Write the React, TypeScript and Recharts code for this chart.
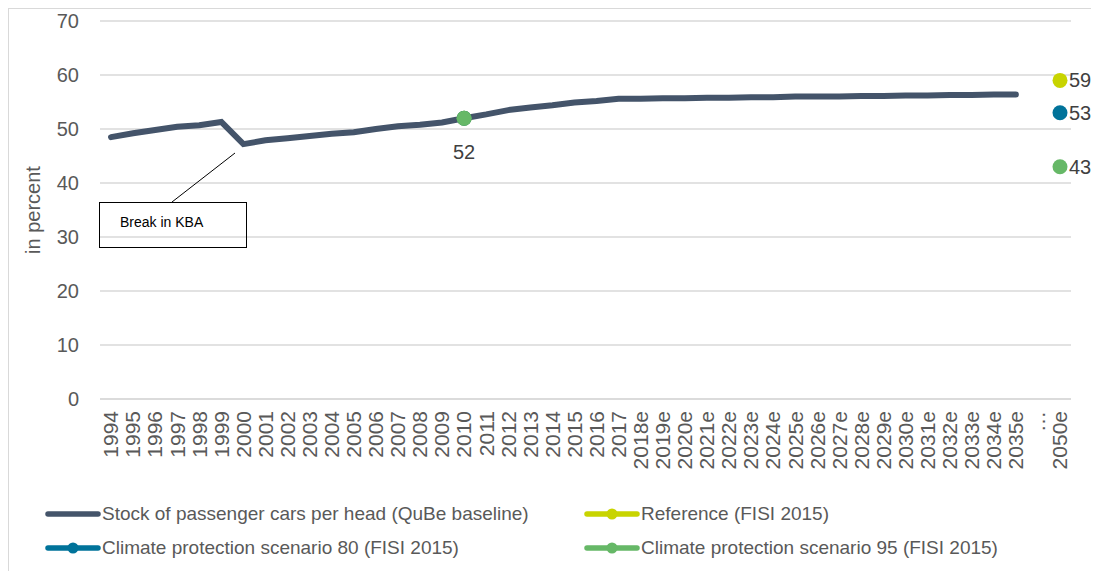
import React from 'react';
import { LineChart, Line, XAxis, YAxis, CartesianGrid, Legend, LabelList } from 'recharts';

const years = [
  '1994', '1995', '1996', '1997', '1998', '1999', '2000', '2001', '2002', '2003', '2004',
  '2005', '2006', '2007', '2008', '2009', '2010', '2011', '2012', '2013', '2014', '2015',
  '2016', '2017', '2018e', '2019e', '2020e', '2021e', '2022e', '2023e', '2024e', '2025e',
  '2026e', '2027e', '2028e', '2029e', '2030e', '2031e', '2032e', '2033e', '2034e', '2035e',
  '…', '2050e',
];

// QuBe baseline, 1994 .. 2035e
const stockValues = [
  48.5, 49.2, 49.8, 50.4, 50.7, 51.3, 47.2, 47.9, 48.3, 48.7, 49.1,
  49.4, 50.0, 50.5, 50.8, 51.2, 52.0, 52.7, 53.5, 54.0, 54.4, 54.9,
  55.2, 55.6, 55.6, 55.7, 55.7, 55.8, 55.8, 55.9, 55.9, 56.0,
  56.0, 56.0, 56.1, 56.1, 56.2, 56.2, 56.3, 56.3, 56.4, 56.4,
];

const scenarioYears = ['2010', '2050e'];
const referenceValues = [52, 59];
const cp80Values = [52, 53];
const cp95Values = [52, 43];

const SERIES = [
  { key: 'stock', name: 'Stock of passenger cars per head (QuBe baseline)', color: '#44546a' },
  { key: 'reference', name: 'Reference (FISI 2015)', color: '#c8d400' },
  { key: 'cp80', name: 'Climate protection scenario 80 (FISI 2015)', color: '#00739a' },
  { key: 'cp95', name: 'Climate protection scenario 95 (FISI 2015)', color: '#66b867' },
];

const FONT = 'Arial, "Liberation Sans", sans-serif';

const scenarioAt = (values: number[], year: string) => {
  const i = scenarioYears.indexOf(year);
  return i >= 0 ? values[i] : null;
};

const data = years.map((year, i) => ({
  year,
  stock: i < stockValues.length ? stockValues[i] : null,
  reference: scenarioAt(referenceValues, year),
  cp80: scenarioAt(cp80Values, year),
  cp95: scenarioAt(cp95Values, year),
}));

const YearTick = (props: any) => {
  const { x, y, payload } = props;
  return (
    <text
      x={x}
      y={y}
      dy="0.35em"
      transform={`rotate(-90, ${x}, ${y})`}
      textAnchor="end"
      fontSize={21}
      fontFamily={FONT}
      fill="#595959"
    >
      {payload.value}
    </text>
  );
};

// labels: value right of the 2050e dot, optionally under the 2010 dot
const makeLabel = (showStart: boolean) => (props: any) => {
  const { x, y, value, index } = props;
  if (value == null) return null;
  const isEnd = data[index]?.year === '2050e';
  if (!isEnd && !showStart) return null;
  return (
    <text
      x={isEnd ? x + 9 : x}
      y={isEnd ? y : y + 34}
      textAnchor={isEnd ? 'start' : 'middle'}
      dominantBaseline="central"
      fontSize={20}
      fontFamily={FONT}
      fill="#404040"
    >
      {value}
    </text>
  );
};

const renderLegend = () => (
  <div
    style={{
      height: 80,
      boxSizing: 'border-box',
      paddingTop: 12,
      paddingLeft: 36,
      display: 'grid',
      gridTemplateColumns: '539px auto',
      gridAutoRows: 34,
      fontFamily: FONT,
      fontSize: 19,
      color: '#595959',
    }}
  >
    {SERIES.map((s) => (
      <div key={s.key} style={{ display: 'flex', alignItems: 'center', height: 22 }}>
        <svg width={57} height={14} style={{ flex: 'none' }}>
          <line x1={3} y1={7} x2={53} y2={7} stroke={s.color} strokeWidth={5.5} strokeLinecap="round" />
          {s.key !== 'stock' && <circle cx={28} cy={7} r={5.5} fill={s.color} />}
        </svg>
        <span style={{ whiteSpace: 'nowrap' }}>{s.name}</span>
      </div>
    ))}
  </div>
);

const BreakNote = () => (
  <>
    <svg width={300} height={260} style={{ position: 'absolute', left: 0, top: 0, pointerEvents: 'none' }}>
      <line x1={163} y1={193} x2={226} y2={144} stroke="#000" strokeWidth={1} />
    </svg>
    <div
      style={{
        position: 'absolute',
        left: 90,
        top: 193,
        width: 148,
        height: 46,
        boxSizing: 'border-box',
        border: '1px solid #000',
        paddingLeft: 20,
        paddingTop: 10,
        fontFamily: FONT,
        fontSize: 14,
        lineHeight: '18px',
        color: '#000',
      }}
    >
      Break in KBA
    </div>
  </>
);

const App = () => {
  return (
    <div
      style={{
        position: 'relative',
        width: 1090,
        height: 563,
        boxSizing: 'border-box',
        borderLeft: '1px solid #d9d9d9',
        borderTop: '1px solid #d9d9d9',
        background: '#fff',
      }}
    >
      <LineChart width={1089} height={562} data={data} margin={{ top: 12, right: 27, bottom: 0, left: 0 }}>
        <CartesianGrid vertical={false} stroke="#d9d9d9" strokeWidth={1.5} />
        <XAxis
          dataKey="year"
          interval={0}
          padding={{ left: 11, right: 11 }}
          tick={<YearTick />}
          tickLine={false}
          tickSize={0}
          tickMargin={12}
          height={92}
          axisLine={{ stroke: '#d9d9d9', strokeWidth: 1.5 }}
        />
        <YAxis
          domain={[0, 70]}
          ticks={[0, 10, 20, 30, 40, 50, 60, 70]}
          width={91}
          axisLine={false}
          tickLine={false}
          tickSize={0}
          tickMargin={21}
          tick={{ fontSize: 20, fontFamily: FONT, fill: '#595959' }}
          label={{
            content: (p: any) => {
              const vb = p.viewBox;
              const cx = vb.x + 24;
              const cy = vb.y + vb.height / 2;
              return (
                <text
                  x={cx}
                  y={cy}
                  transform={`rotate(-90, ${cx}, ${cy})`}
                  textAnchor="middle"
                  dominantBaseline="central"
                  fontSize={20}
                  fontFamily={FONT}
                  fill="#595959"
                >
                  in percent
                </text>
              );
            },
          }}
        />
        <Legend verticalAlign="bottom" content={renderLegend} />
        <Line
          dataKey="stock"
          name={SERIES[0].name}
          stroke={SERIES[0].color}
          strokeWidth={6}
          strokeLinecap="round"
          dot={false}
          activeDot={false}
          isAnimationActive={false}
        />
        {SERIES.slice(1).map((s) => (
          <Line
            key={s.key}
            dataKey={s.key}
            name={s.name}
            stroke={s.color}
            strokeWidth={5}
            dot={{ r: 7.5, fill: s.color, stroke: 'none' }}
            activeDot={false}
            isAnimationActive={false}
          >
            <LabelList dataKey={s.key} content={makeLabel(s.key === 'cp95')} />
          </Line>
        ))}
      </LineChart>
      <BreakNote />
    </div>
  );
};

export default App;
